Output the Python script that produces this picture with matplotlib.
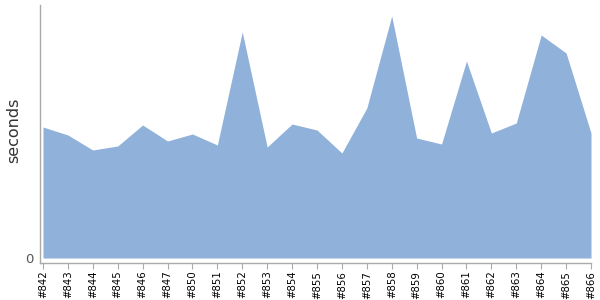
import matplotlib
matplotlib.use("Agg")
import matplotlib.pyplot as plt
import numpy as np

builds = ['#842', '#843', '#844', '#845', '#846', '#847', '#850', '#851', '#852',
          '#853', '#854', '#855', '#856', '#857', '#858', '#859', '#860', '#861',
          '#862', '#863', '#864', '#865', '#866']
seconds = [13.1, 12.3, 10.8, 11.2, 13.3, 11.7, 12.4, 11.3, 22.6, 11.1, 13.4, 12.8,
           10.5, 15.0, 24.2, 12.0, 11.4, 19.7, 12.5, 13.5, 22.3, 20.5, 12.5]

fig = plt.figure(figsize=(6, 3), dpi=100)
ax = fig.add_axes([40 / 600, 37 / 300, 551 / 600, 258 / 300])

x = np.arange(len(builds))
ax.fill_between(x, 0, seconds, color='#8fb1da', linewidth=0)

ax.set_xlim(-0.12, len(builds) - 1)
ax.set_ylim(-0.5, 25.3)

ax.set_xticks(x)
ax.set_xticklabels(builds, rotation=90, fontsize=7.3, color='black')
ax.set_yticks([0])
ax.set_yticklabels(['0'], fontsize=9.5, color='#555555')
ax.tick_params(axis='x', length=4, color='#aaaaaa', pad=1.5)
ax.tick_params(axis='y', length=0, pad=5)

for s in ['top', 'right']:
    ax.spines[s].set_visible(False)
for s in ['left', 'bottom']:
    ax.spines[s].set_color('#aaaaaa')
    ax.spines[s].set_linewidth(1)

ax.set_ylabel('seconds', fontsize=11.5, color='#333333')
ax.yaxis.set_label_coords(-0.034, 0.515)

fig.savefig('out.png', dpi=100)
